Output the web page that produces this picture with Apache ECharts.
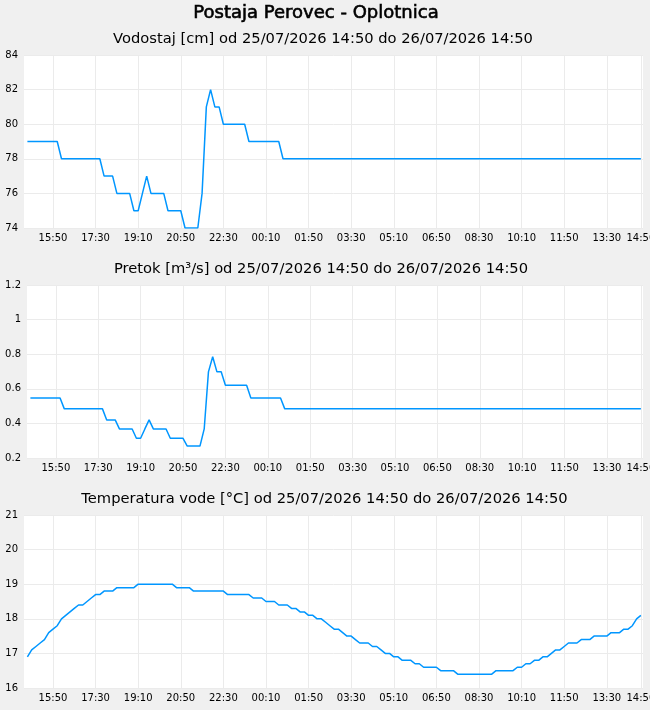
<!DOCTYPE html>
<html>
<head>
<meta charset="utf-8">
<title>Postaja Perovec - Oplotnica</title>
<script src="https://cdn.jsdelivr.net/npm/echarts@6/dist/echarts.min.js"></script>
<style>
  html, body { margin: 0; padding: 0; background: #f0f0f0; }
  #chart { width: 650px; height: 710px; }
</style>
</head>
<body>
<div id="chart"></div>
<script>
// meritve vsakih 10 minut, od 25/07/2026 14:50 do 26/07/2026 14:50 (145 tock)
const stepMinutes = 10;

const vodostaj = [
  79, 79, 79, 79, 79, 79, 79, 79, 78, 78,
  78, 78, 78, 78, 78, 78, 78, 78, 77, 77,
  77, 76, 76, 76, 76, 75, 75, 76, 77, 76,
  76, 76, 76, 75, 75, 75, 75, 74, 74, 74,
  74, 76, 81, 82, 81, 81, 80, 80, 80, 80,
  80, 80, 79, 79, 79, 79, 79, 79, 79, 79,
  78, 78, 78, 78, 78, 78, 78, 78, 78, 78,
  78, 78, 78, 78, 78, 78, 78, 78, 78, 78,
  78, 78, 78, 78, 78, 78, 78, 78, 78, 78,
  78, 78, 78, 78, 78, 78, 78, 78, 78, 78,
  78, 78, 78, 78, 78, 78, 78, 78, 78, 78,
  78, 78, 78, 78, 78, 78, 78, 78, 78, 78,
  78, 78, 78, 78, 78, 78, 78, 78, 78, 78,
  78, 78, 78, 78, 78, 78, 78, 78, 78, 78,
  78, 78, 78, 78, 78
];

const pretok = [
  0.547, 0.547, 0.547, 0.547, 0.547, 0.547, 0.547, 0.547, 0.484, 0.484,
  0.484, 0.484, 0.484, 0.484, 0.484, 0.484, 0.484, 0.484, 0.42, 0.42,
  0.42, 0.368, 0.368, 0.368, 0.368, 0.314, 0.314, 0.368, 0.42, 0.368,
  0.368, 0.368, 0.368, 0.314, 0.314, 0.314, 0.314, 0.269, 0.269, 0.269,
  0.269, 0.368, 0.698, 0.785, 0.698, 0.698, 0.621, 0.621, 0.621, 0.621,
  0.621, 0.621, 0.547, 0.547, 0.547, 0.547, 0.547, 0.547, 0.547, 0.547,
  0.484, 0.484, 0.484, 0.484, 0.484, 0.484, 0.484, 0.484, 0.484, 0.484,
  0.484, 0.484, 0.484, 0.484, 0.484, 0.484, 0.484, 0.484, 0.484, 0.484,
  0.484, 0.484, 0.484, 0.484, 0.484, 0.484, 0.484, 0.484, 0.484, 0.484,
  0.484, 0.484, 0.484, 0.484, 0.484, 0.484, 0.484, 0.484, 0.484, 0.484,
  0.484, 0.484, 0.484, 0.484, 0.484, 0.484, 0.484, 0.484, 0.484, 0.484,
  0.484, 0.484, 0.484, 0.484, 0.484, 0.484, 0.484, 0.484, 0.484, 0.484,
  0.484, 0.484, 0.484, 0.484, 0.484, 0.484, 0.484, 0.484, 0.484, 0.484,
  0.484, 0.484, 0.484, 0.484, 0.484, 0.484, 0.484, 0.484, 0.484, 0.484,
  0.484, 0.484, 0.484, 0.484, 0.484
];

const temperatura = [
  16.9, 17.1, 17.2, 17.3, 17.4, 17.6, 17.7, 17.8, 18.0, 18.1,
  18.2, 18.3, 18.4, 18.4, 18.5, 18.6, 18.7, 18.7, 18.8, 18.8,
  18.8, 18.9, 18.9, 18.9, 18.9, 18.9, 19.0, 19.0, 19.0, 19.0,
  19.0, 19.0, 19.0, 19.0, 19.0, 18.9, 18.9, 18.9, 18.9, 18.8,
  18.8, 18.8, 18.8, 18.8, 18.8, 18.8, 18.8, 18.7, 18.7, 18.7,
  18.7, 18.7, 18.7, 18.6, 18.6, 18.6, 18.5, 18.5, 18.5, 18.4,
  18.4, 18.4, 18.3, 18.3, 18.2, 18.2, 18.1, 18.1, 18.0, 18.0,
  17.9, 17.8, 17.7, 17.7, 17.6, 17.5, 17.5, 17.4, 17.3, 17.3,
  17.3, 17.2, 17.2, 17.1, 17.0, 17.0, 16.9, 16.9, 16.8, 16.8,
  16.8, 16.7, 16.7, 16.6, 16.6, 16.6, 16.6, 16.5, 16.5, 16.5,
  16.5, 16.4, 16.4, 16.4, 16.4, 16.4, 16.4, 16.4, 16.4, 16.4,
  16.5, 16.5, 16.5, 16.5, 16.5, 16.6, 16.6, 16.7, 16.7, 16.8,
  16.8, 16.9, 16.9, 17.0, 17.1, 17.1, 17.2, 17.3, 17.3, 17.3,
  17.4, 17.4, 17.4, 17.5, 17.5, 17.5, 17.5, 17.6, 17.6, 17.6,
  17.7, 17.7, 17.8, 18.0, 18.1
];

// oznake na casovni osi (minute od zacetka)
const tickMinutes = [60, 160, 260, 360, 460, 560, 660, 760, 860, 960, 1060, 1160, 1260, 1360, 1440];
const tickLabels = ['15:50', '17:30', '19:10', '20:50', '22:30', '00:10', '01:50', '03:30',
  '05:10', '06:50', '08:30', '10:10', '11:50', '13:30', '14:50'];

const panels = [
  { name: 'Vodostaj [cm] od 25/07/2026 14:50 do 26/07/2026 14:50', values: vodostaj, min: 74, max: 84, interval: 2, left: 24, center: 323 },
  { name: 'Pretok [m³/s] od 25/07/2026 14:50 do 26/07/2026 14:50', values: pretok, min: 0.2, max: 1.2, interval: 0.2, left: 27, center: 321 },
  { name: 'Temperatura vode [°C] od 25/07/2026 14:50 do 26/07/2026 14:50', values: temperatura, min: 16, max: 21, interval: 1, left: 24, center: 324.5 }
];

const font = 'DejaVu Sans';
const lineColor = '#0096ff';
const gridColor = '#ebebeb';

const chart = echarts.init(document.getElementById('chart'), null, { renderer: 'canvas' });

const titles = [{
  text: 'Postaja Perovec - Oplotnica',
  left: 316,
  textAlign: 'center',
  top: 4,
  padding: 0,
  textStyle: {
    fontFamily: font, fontSize: 18, fontWeight: 'normal', color: '#000',
    textBorderColor: '#000', textBorderWidth: 0.6
  }
}];
const grids = [];
const xAxes = [];
const yAxes = [];
const series = [];

panels.forEach(function (p, k) {
  const offset = k * 230;
  titles.push({
    text: p.name,
    left: p.center,
    textAlign: 'center',
    top: 32 + offset,
    padding: 0,
    textStyle: { fontFamily: font, fontSize: 14.7, fontWeight: 'normal', color: '#000' }
  });
  grids.push({
    left: p.left,
    right: 7,
    top: 55 + offset,
    height: 173,
    outerBoundsMode: 'none',
    show: true,
    backgroundColor: '#fff',
    borderWidth: 0
  });
  xAxes.push({
    type: 'value',
    gridIndex: k,
    min: -8,
    max: 1445,
    axisLine: { show: false },
    axisTick: { show: false, customValues: tickMinutes },
    axisLabel: {
      customValues: tickMinutes,
      margin: 5,
      fontFamily: font,
      fontSize: 10,
      color: '#000',
      formatter: function (v) {
        const i = tickMinutes.indexOf(v);
        return i >= 0 ? tickLabels[i] : '';
      }
    },
    splitLine: { show: true, lineStyle: { color: gridColor, width: 1 } }
  });
  yAxes.push({
    type: 'value',
    gridIndex: k,
    min: p.min,
    max: p.max,
    interval: p.interval,
    axisLine: { show: false },
    axisTick: { show: false },
    axisLabel: { margin: 6, fontFamily: font, fontSize: 10, color: '#000' },
    splitLine: { show: true, lineStyle: { color: gridColor, width: 1 } }
  });
  series.push({
    type: 'line',
    xAxisIndex: k,
    yAxisIndex: k,
    showSymbol: false,
    symbol: 'none',
    lineStyle: { color: lineColor, width: 1.5 },
    data: p.values.map(function (v, i) { return [i * stepMinutes, v]; })
  });
});

chart.setOption({
  backgroundColor: '#f0f0f0',
  animation: false,
  title: titles,
  grid: grids,
  xAxis: xAxes,
  yAxis: yAxes,
  series: series
});
</script>
</body>
</html>
